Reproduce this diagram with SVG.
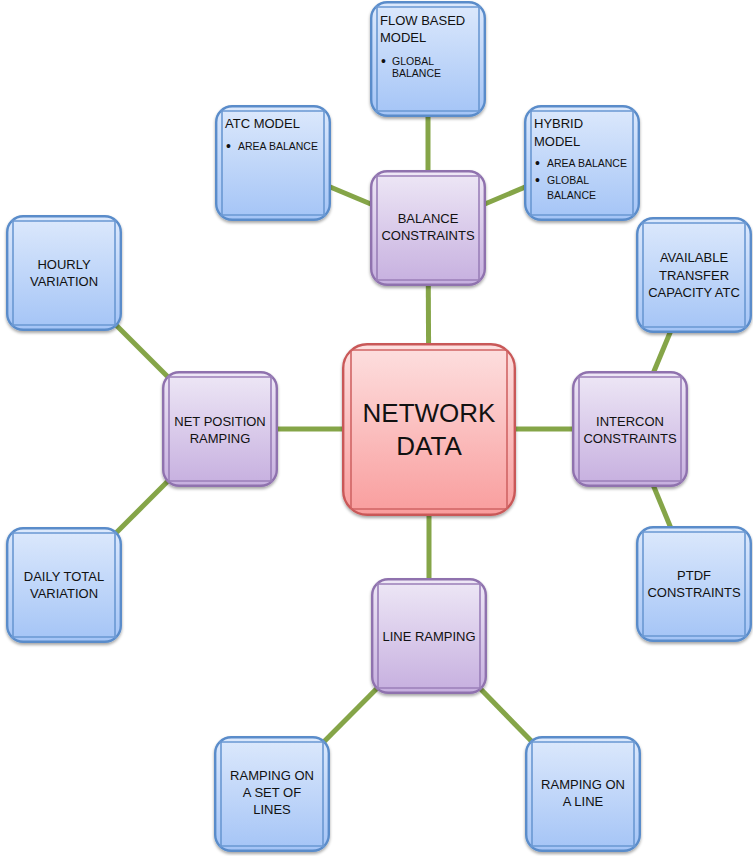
<svg xmlns="http://www.w3.org/2000/svg" xmlns:xlink="http://www.w3.org/1999/xlink" width="753" height="856" viewBox="0 0 753 856">
  <defs>
    <linearGradient id="gBlue" x1="0" y1="0" x2="0" y2="1">
      <stop offset="0" stop-color="#dde9fc"/>
      <stop offset="1" stop-color="#a4c4f6"/>
    </linearGradient>
    <linearGradient id="gPurple" x1="0" y1="0" x2="0" y2="1">
      <stop offset="0" stop-color="#eee8f6"/>
      <stop offset="1" stop-color="#c6afdf"/>
    </linearGradient>
    <linearGradient id="gRed" x1="0" y1="0" x2="0" y2="1">
      <stop offset="0" stop-color="#fde0e0"/>
      <stop offset="1" stop-color="#f99d9d"/>
    </linearGradient>
    <filter id="shadow" x="-10%" y="-10%" width="120%" height="125%">
      <feDropShadow dx="0" dy="2" stdDeviation="1.8" flood-color="#000" flood-opacity="0.35"/>
    </filter>
    <symbol id="blueBox" viewBox="0 0 116 116">
      <rect x="1.2" y="1.2" width="113.6" height="113.6" rx="16" fill="url(#gBlue)" stroke="#5a8cca" stroke-width="2.4"/>
      <path d="M7 4.2V111.8M109 4.2V111.8M5 6H111M5 110H111" fill="none" stroke="#6a98d2" stroke-width="1.6"/>
    </symbol>
    <symbol id="purpleBox" viewBox="0 0 116 116">
      <rect x="1.2" y="1.2" width="113.6" height="113.6" rx="16" fill="url(#gPurple)" stroke="#8f72ae" stroke-width="2.4"/>
      <path d="M7 4.2V111.8M109 4.2V111.8M5 6H111M5 110H111" fill="none" stroke="#9a7fb8" stroke-width="1.6"/>
    </symbol>
    <symbol id="redBox" viewBox="0 0 174 173">
      <rect x="1.2" y="1.2" width="171.6" height="170.6" rx="24" fill="url(#gRed)" stroke="#c95858" stroke-width="2.4"/>
      <path d="M9 7.1V165.9M165 7.1V165.9M9.1 7H164.9M9.1 166H164.9" fill="none" stroke="#d06464" stroke-width="1.6"/>
    </symbol>
  </defs>
  <style>
    text { font-family: "Liberation Sans", Arial, sans-serif; fill: #111; }
    .t { font-size: 13px; text-anchor: middle; }
    .tl { font-size: 13px; }
    .b { font-size: 10.5px; }
    .d { font-size: 14px; }
    .big { font-size: 26px; text-anchor: middle; }
    .box { filter: url(#shadow); }
    .conn line { stroke: #85a548; stroke-width: 5; }
  </style>
  <rect width="753" height="856" fill="#fff"/>

  <g id="connectors" class="conn">
    <line x1="429" y1="429" x2="428" y2="228"/>
    <line x1="429" y1="429" x2="630" y2="429"/>
    <line x1="429" y1="429" x2="429" y2="636"/>
    <line x1="429" y1="429" x2="220" y2="429"/>
    <line x1="428" y1="228" x2="428" y2="59"/>
    <line x1="428" y1="228" x2="273" y2="163"/>
    <line x1="428" y1="228" x2="582" y2="163"/>
    <line x1="630" y1="429" x2="694" y2="275"/>
    <line x1="630" y1="429" x2="694" y2="584"/>
    <line x1="429" y1="636" x2="272" y2="794"/>
    <line x1="429" y1="636" x2="583" y2="794"/>
    <line x1="220" y1="429" x2="64" y2="273"/>
    <line x1="220" y1="429" x2="64" y2="585"/>
  </g>

  <g id="network-data">
    <use href="#redBox" class="box" x="342" y="343" width="174" height="173"/>
    <text class="big" x="429" y="422">NETWORK</text>
    <text class="big" x="429" y="455">DATA</text>
  </g>

  <g id="balance-constraints">
    <use href="#purpleBox" class="box" x="370" y="170" width="116" height="116"/>
    <text class="t" x="428" y="223">BALANCE</text>
    <text class="t" x="428" y="240">CONSTRAINTS</text>
  </g>

  <g id="flow-based-model">
    <use href="#blueBox" class="box" x="370" y="1" width="116" height="116"/>
    <text class="tl" x="380" y="25">FLOW BASED</text>
    <text class="tl" x="380" y="42">MODEL</text>
    <text class="d" x="381" y="66">•</text>
    <text class="b" x="392" y="65">GLOBAL</text>
    <text class="b" x="392" y="77">BALANCE</text>
  </g>

  <g id="atc-model">
    <use href="#blueBox" class="box" x="215" y="105" width="116" height="116"/>
    <text class="tl" x="225" y="128">ATC MODEL</text>
    <text class="d" x="226" y="151">•</text>
    <text class="b" x="238" y="150">AREA BALANCE</text>
  </g>

  <g id="hybrid-model">
    <use href="#blueBox" class="box" x="524" y="105" width="116" height="116"/>
    <text class="tl" x="534" y="128">HYBRID</text>
    <text class="tl" x="534" y="146">MODEL</text>
    <text class="d" x="535" y="168">•</text>
    <text class="b" x="547" y="167">AREA BALANCE</text>
    <text class="d" x="535" y="185">•</text>
    <text class="b" x="547" y="184">GLOBAL</text>
    <text class="b" x="547" y="199">BALANCE</text>
  </g>

  <g id="available-transfer-capacity">
    <use href="#blueBox" class="box" x="636" y="217" width="116" height="116"/>
    <text class="t" x="694" y="262">AVAILABLE</text>
    <text class="t" x="694" y="280">TRANSFER</text>
    <text class="t" x="694" y="297">CAPACITY ATC</text>
  </g>

  <g id="intercon-constraints">
    <use href="#purpleBox" class="box" x="572" y="371" width="116" height="116"/>
    <text class="t" x="630" y="426">INTERCON</text>
    <text class="t" x="630" y="443">CONSTRAINTS</text>
  </g>

  <g id="ptdf-constraints">
    <use href="#blueBox" class="box" x="636" y="526" width="116" height="116"/>
    <text class="t" x="694" y="580">PTDF</text>
    <text class="t" x="694" y="597">CONSTRAINTS</text>
  </g>

  <g id="line-ramping">
    <use href="#purpleBox" class="box" x="371" y="578" width="116" height="116"/>
    <text class="t" x="429" y="641">LINE RAMPING</text>
  </g>

  <g id="ramping-set-of-lines">
    <use href="#blueBox" class="box" x="214" y="736" width="116" height="116"/>
    <text class="t" x="272" y="780">RAMPING ON</text>
    <text class="t" x="272" y="797">A SET OF</text>
    <text class="t" x="272" y="814">LINES</text>
  </g>

  <g id="ramping-on-a-line">
    <use href="#blueBox" class="box" x="525" y="736" width="116" height="116"/>
    <text class="t" x="583" y="789">RAMPING ON</text>
    <text class="t" x="583" y="806">A LINE</text>
  </g>

  <g id="net-position-ramping">
    <use href="#purpleBox" class="box" x="162" y="371" width="116" height="116"/>
    <text class="t" x="220" y="426">NET POSITION</text>
    <text class="t" x="220" y="443">RAMPING</text>
  </g>

  <g id="hourly-variation">
    <use href="#blueBox" class="box" x="6" y="215" width="116" height="116"/>
    <text class="t" x="64" y="269">HOURLY</text>
    <text class="t" x="64" y="286">VARIATION</text>
  </g>

  <g id="daily-total-variation">
    <use href="#blueBox" class="box" x="6" y="527" width="116" height="116"/>
    <text class="t" x="64" y="581">DAILY TOTAL</text>
    <text class="t" x="64" y="598">VARIATION</text>
  </g>
</svg>
